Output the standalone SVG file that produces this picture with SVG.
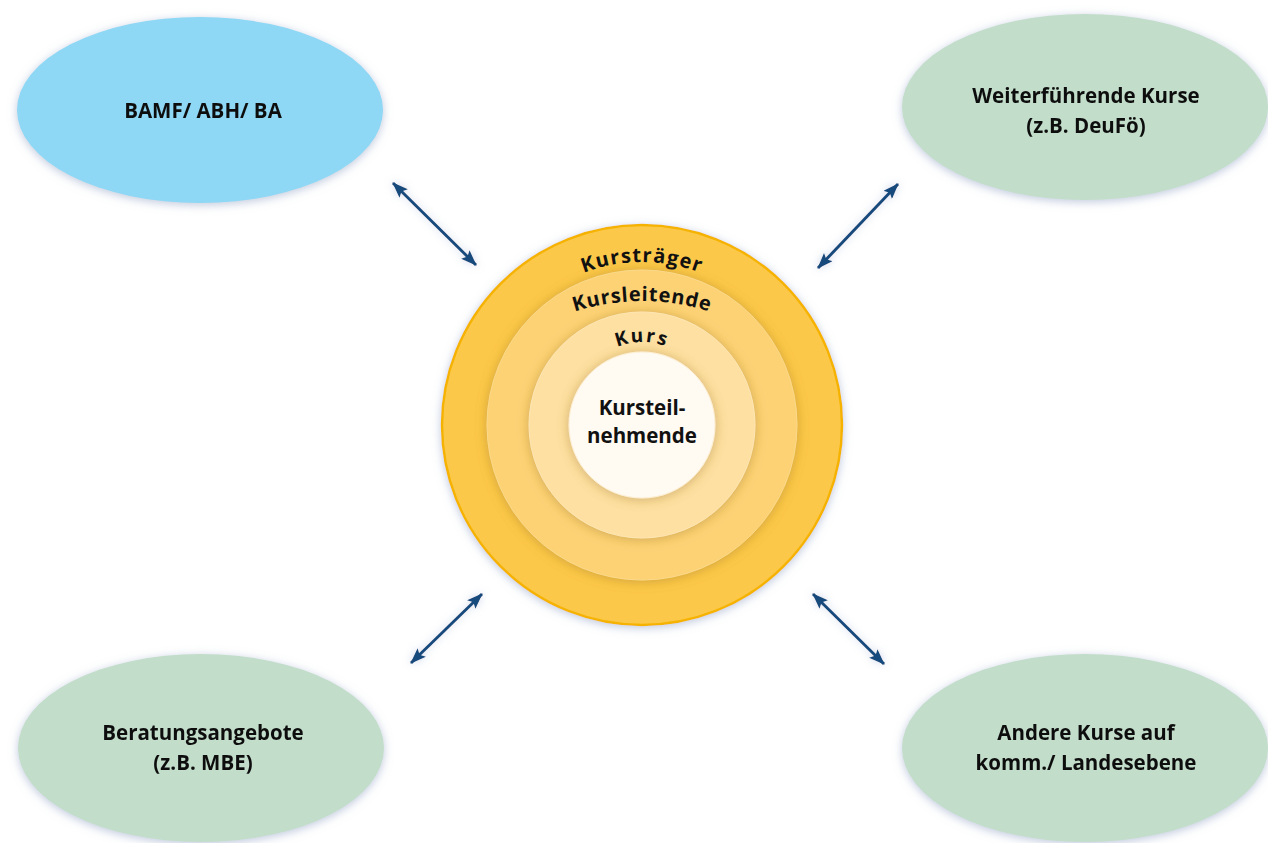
<svg xmlns="http://www.w3.org/2000/svg" width="1268" height="843" viewBox="0 0 1268 843">
<style>
.lbl{font-family:"Open Sans","Liberation Sans",sans-serif;font-weight:700;font-size:20.5px;fill:#111;text-anchor:middle}
.arc{font-family:"Open Sans","Liberation Sans",sans-serif;font-weight:700;fill:#111}
.conn{stroke:#174a7c;stroke-width:3;fill:none;marker-start:url(#ah);marker-end:url(#ah)}
</style>
<defs>
<filter id="sh" x="-20%" y="-20%" width="140%" height="140%">
<feGaussianBlur in="SourceAlpha" stdDeviation="5"/>
<feOffset dx="0" dy="2" result="b"/>
<feFlood flood-color="#8a9cc0" flood-opacity="0.55"/>
<feComposite in2="b" operator="in"/>
<feMerge><feMergeNode/><feMergeNode in="SourceGraphic"/></feMerge>
</filter>
<filter id="ish" x="-20%" y="-20%" width="140%" height="140%">
<feGaussianBlur in="SourceAlpha" stdDeviation="6"/>
<feOffset dx="0" dy="1" result="b"/>
<feFlood flood-color="#9a7420" flood-opacity="0.45"/>
<feComposite in2="b" operator="in"/>
<feMerge><feMergeNode/><feMergeNode in="SourceGraphic"/></feMerge>
</filter>
<filter id="ash" x="-30%" y="-30%" width="160%" height="160%">
<feFlood flood-color="#a9b8d8" flood-opacity="0.6"/>
<feComposite operator="in" in2="SourceAlpha"/>
<feGaussianBlur stdDeviation="4" result="g"/>
<feMerge><feMergeNode in="g"/><feMergeNode in="SourceGraphic"/></feMerge>
</filter>
<marker id="ah" viewBox="0 0 16 12" refX="15" refY="6" markerWidth="16" markerHeight="12" orient="auto-start-reverse" markerUnits="userSpaceOnUse">
<path d="M0,0 L16,6 L0,12 L3,6 Z" fill="#174a7c"/>
</marker>
<path id="p1" d="M479,425 A163,163 0 0 1 805,425"/>
<path id="p2" d="M422,521 A220,220 0 0 1 862,521"/>
<path id="p3" d="M578,406 A64,64 0 0 1 706,406"/>
</defs>
<rect width="1268" height="843" fill="#ffffff"/>

<g id="node-bamf" filter="url(#sh)">
<ellipse cx="200" cy="110" rx="183" ry="93" fill="#8ed7f5"/>
<text class="lbl" x="203" y="118">BAMF/ ABH/ BA</text>
</g>
<g id="node-weiter" filter="url(#sh)">
<ellipse cx="1085" cy="107" rx="183" ry="93" fill="#c2ddca"/>
<text class="lbl" x="1086" y="103">Weiterführende Kurse</text>
<text class="lbl" x="1086" y="133">(z.B. DeuFö)</text>
</g>
<g id="node-beratung" filter="url(#sh)">
<ellipse cx="201" cy="748" rx="183" ry="94" fill="#c2ddca"/>
<text class="lbl" x="203" y="740">Beratungsangebote</text>
<text class="lbl" x="203" y="770">(z.B. MBE)</text>
</g>
<g id="node-andere" filter="url(#sh)">
<ellipse cx="1085" cy="748" rx="183" ry="94" fill="#c2ddca"/>
<text class="lbl" x="1086" y="740">Andere Kurse auf</text>
<text class="lbl" x="1086" y="770">komm./ Landesebene</text>
</g>

<g id="node-center">
<circle cx="642" cy="425" r="200" fill="#fcc84a" stroke="#f5b300" stroke-width="2.5" filter="url(#sh)"/>
<circle cx="642" cy="425" r="155" fill="#fdd274" stroke="#fbd98c" stroke-width="1" filter="url(#ish)"/>
<circle cx="642" cy="425" r="113" fill="#fee0a2" stroke="#fde6b4" stroke-width="1" filter="url(#ish)"/>
<circle cx="642" cy="425" r="73" fill="#fffaf2" stroke="#fdf0d6" stroke-width="1" filter="url(#ish)"/>
<text class="arc" font-size="20" letter-spacing="1.2"><textPath href="#p1" startOffset="50%" text-anchor="middle">Kursträger</textPath></text>
<text class="arc" font-size="20" letter-spacing="0.8"><textPath href="#p2" startOffset="50%" text-anchor="middle">Kursleitende</textPath></text>
<text class="arc" font-size="19" letter-spacing="2"><textPath href="#p3" startOffset="50%" text-anchor="middle">Kurs</textPath></text>
<text class="lbl" x="642" y="415">Kursteil-</text>
<text class="lbl" x="642" y="443">nehmende</text>
</g>

<g id="connectors" filter="url(#ash)">
<line class="conn" x1="393" y1="183" x2="476" y2="265"/>
<line class="conn" x1="898" y1="184" x2="818" y2="268"/>
<line class="conn" x1="482" y1="594" x2="411" y2="663"/>
<line class="conn" x1="813" y1="594" x2="884" y2="664"/>
</g>
</svg>
